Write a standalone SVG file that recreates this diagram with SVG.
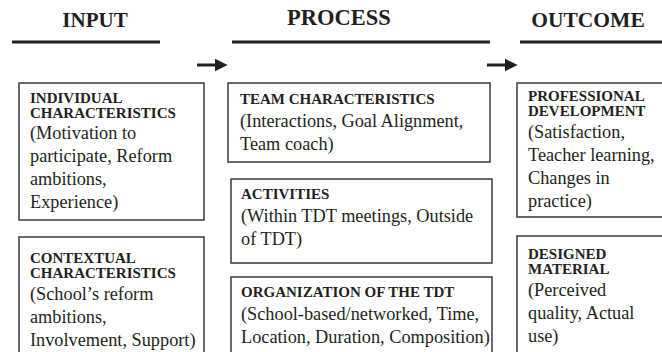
<svg xmlns="http://www.w3.org/2000/svg" width="662" height="352" viewBox="0 0 662 352">
  <defs>
    <style>
      .hdr { font-family: "Liberation Serif", "Times New Roman", serif; font-weight: bold; font-size: 21px; fill: #231f20; text-anchor: middle; }
      .rule { stroke: #231f20; stroke-width: 3; }
      .box { fill: #ffffff; stroke: #3a3a3a; stroke-width: 1.5; }
      .b { font-family: "Liberation Serif", "Times New Roman", serif; font-weight: bold; font-size: 15px; fill: #231f20; }
      .t { font-family: "Liberation Serif", "Times New Roman", serif; font-size: 18.3px; fill: #231f20; }
    </style>
    <marker id="head" viewBox="0 0 10 10" refX="0" refY="5" markerWidth="4.2" markerHeight="4.6" markerUnits="strokeWidth" orient="auto">
      <path d="M0,0 L10,5 L0,10 Z" fill="#231f20"/>
    </marker>
  </defs>

  <rect width="662" height="352" fill="#ffffff"/>

  <!-- column headings -->
  <g id="heading-input">
    <text class="hdr" x="95" y="27">INPUT</text>
    <line class="rule" x1="12" y1="42" x2="160" y2="42"/>
  </g>
  <g id="heading-process">
    <text class="hdr" x="339" y="25" style="font-size:22.5px">PROCESS</text>
    <line class="rule" x1="232" y1="42" x2="490" y2="42"/>
  </g>
  <g id="heading-outcome">
    <text class="hdr" x="588" y="27" style="font-size:21.5px">OUTCOME</text>
    <line class="rule" x1="520" y1="42" x2="662" y2="42"/>
  </g>

  <!-- connectors -->
  <g id="connectors">
    <line x1="197" y1="65" x2="215" y2="65" stroke="#231f20" stroke-width="3" marker-end="url(#head)"/>
    <line x1="487" y1="65" x2="505" y2="65" stroke="#231f20" stroke-width="3" marker-end="url(#head)"/>
  </g>

  <!-- input column -->
  <g id="individual">
    <rect class="box" x="19" y="83" width="185" height="137"/>
    <text class="b" x="30" y="103">INDIVIDUAL</text>
    <text class="b" x="30" y="118">CHARACTERISTICS</text>
    <text class="t" x="30" y="139">(Motivation to</text>
    <text class="t" x="30" y="162">participate, Reform</text>
    <text class="t" x="30" y="185">ambitions,</text>
    <text class="t" x="30" y="208">Experience)</text>
  </g>
  <g id="contextual">
    <rect class="box" x="19" y="237" width="185" height="125"/>
    <text class="b" x="30" y="263">CONTEXTUAL</text>
    <text class="b" x="30" y="278">CHARACTERISTICS</text>
    <text class="t" x="30" y="300">(School’s reform</text>
    <text class="t" x="30" y="323">ambitions,</text>
    <text class="t" x="30" y="346">Involvement, Support)</text>
  </g>

  <!-- process column -->
  <g id="team">
    <rect class="box" x="228" y="83" width="262" height="79"/>
    <text class="b" x="240" y="104">TEAM CHARACTERISTICS</text>
    <text class="t" x="240" y="127">(Interactions, Goal Alignment,</text>
    <text class="t" x="240" y="150">Team coach)</text>
  </g>
  <g id="activities">
    <rect class="box" x="231" y="179" width="261" height="84"/>
    <text class="b" x="241" y="199">ACTIVITIES</text>
    <text class="t" x="241" y="222">(Within TDT meetings, Outside</text>
    <text class="t" x="241" y="245">of TDT)</text>
  </g>
  <g id="organization">
    <rect class="box" x="231" y="277" width="261" height="85"/>
    <text class="b" x="241" y="297">ORGANIZATION OF THE TDT</text>
    <text class="t" x="241" y="320">(School-based/networked, Time,</text>
    <text class="t" x="241" y="343">Location, Duration, Composition)</text>
  </g>

  <!-- outcome column -->
  <g id="professional">
    <rect class="box" x="517" y="83" width="155" height="134"/>
    <text class="b" x="528" y="101">PROFESSIONAL</text>
    <text class="b" x="528" y="116">DEVELOPMENT</text>
    <text class="t" x="528" y="138">(Satisfaction,</text>
    <text class="t" x="528" y="161">Teacher learning,</text>
    <text class="t" x="528" y="184">Changes in</text>
    <text class="t" x="528" y="207">practice)</text>
  </g>
  <g id="material">
    <rect class="box" x="517" y="236" width="155" height="126"/>
    <text class="b" x="528" y="259">DESIGNED</text>
    <text class="b" x="528" y="274">MATERIAL</text>
    <text class="t" x="528" y="296">(Perceived</text>
    <text class="t" x="528" y="319">quality, Actual</text>
    <text class="t" x="528" y="342">use)</text>
  </g>
</svg>
